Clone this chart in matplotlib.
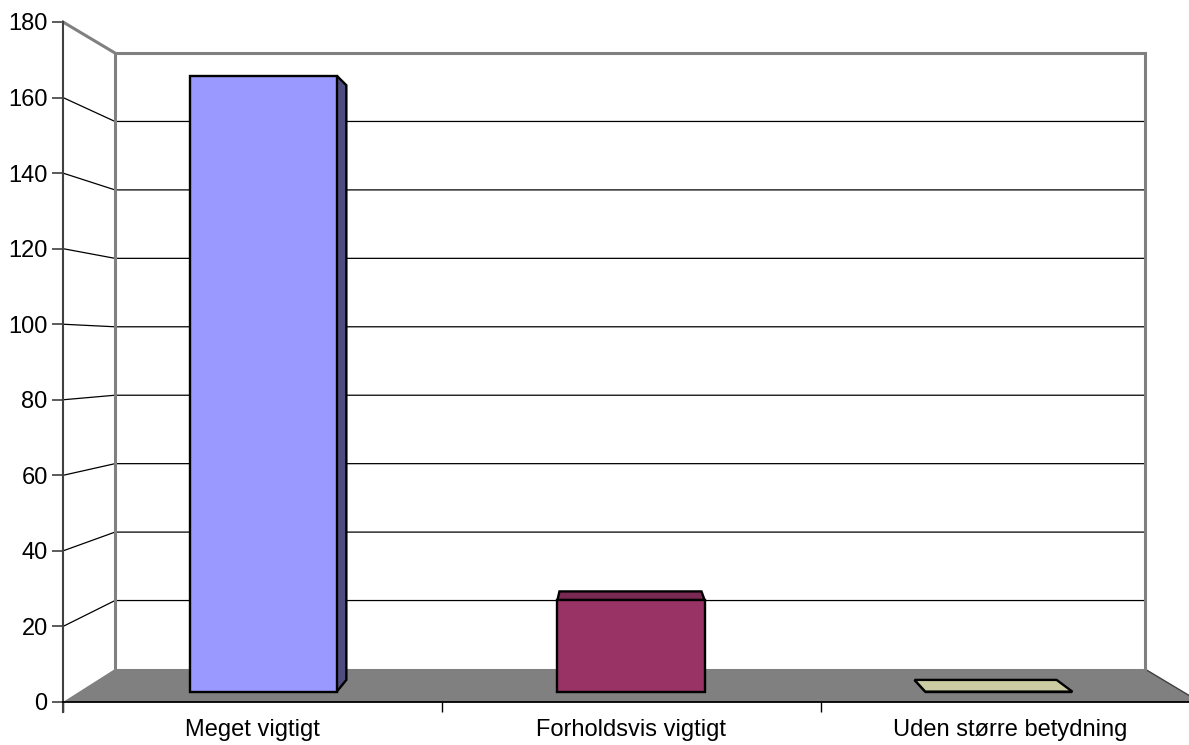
import matplotlib
matplotlib.use("Agg")
import matplotlib.pyplot as plt
from matplotlib.patches import Polygon
from matplotlib.ticker import FixedLocator

plt.rcParams['font.family'] = ['Liberation Sans', 'DejaVu Sans']

# ---- data ----
categories = ["Meget vigtigt", "Forholdsvis vigtigt", "Uden større betydning"]
values = [168, 25, 0]
y_ticks = [0, 20, 40, 60, 80, 100, 120, 140, 160, 180]
y_max = 180

# ---- styles ----
front_colors = ["#9999FF", "#993366", "#FFFFCC"]

def shade(hexc, f):
    hexc = hexc.lstrip('#')
    r, g, b = (int(hexc[i:i + 2], 16) for i in (0, 2, 4))
    return (r * f / 255, g * f / 255, b * f / 255)

# perspective parameters (vanishing point in data coords, depth factor)
VPX, VPV, K = 0.9565, 92.8, 0.104
BAR_HALF = 0.2
Z0, Z1 = 0.291, 0.6465

def proj(x, v, z):
    s = 1.0 / (1.0 + K * z)
    return (VPX + (x - VPX) * s, VPV + (v - VPV) * s)

fig = plt.figure(figsize=(11.89, 7.45), dpi=100)
ax = fig.add_axes([63 / 1189, 43 / 745, 1137 / 1189, 680 / 745])
n = len(categories)
xmin, xmax = -0.5, n - 0.5
ax.set_xlim(xmin, xmax)
ax.set_ylim(0, y_max)
for sp in ax.spines.values():
    sp.set_visible(False)

wall_gray = "#808080"

# back wall gridlines + left wall diagonals
for t in y_ticks[1:-1]:
    pts = [proj(xmin, t, 0), proj(xmin, t, 1), proj(xmax, t, 1)]
    ax.plot([p[0] for p in pts], [p[1] for p in pts], color="black", lw=0.9,
            zorder=1, clip_on=False)

# floor
floor = [proj(xmin, 0, 0), proj(xmin, 0, 1), proj(xmax, 0, 1), proj(xmax, 0, 0)]
ax.add_patch(Polygon(floor, closed=True, facecolor=wall_gray, edgecolor="none",
                     zorder=2, clip_on=False))
fr = [proj(xmax, 0, 1), proj(xmax, 0, 0)]
ax.plot([p[0] for p in fr], [p[1] for p in fr], color="#404040", lw=1.0,
        zorder=2.5, clip_on=False)

# back wall border (left, top, right) and left wall top edge
bw = [proj(xmin, 0, 1), proj(xmin, y_max, 1), proj(xmax, y_max, 1), proj(xmax, 0, 1)]
ax.plot([p[0] for p in bw], [p[1] for p in bw], color=wall_gray, lw=2.2,
        zorder=3, clip_on=False, solid_joinstyle='miter')
lt = [proj(xmin, y_max, 0), proj(xmin, y_max, 1)]
ax.plot([p[0] for p in lt], [p[1] for p in lt], color=wall_gray, lw=2.2,
        zorder=3, clip_on=False)

# bars
for i, (val, col) in enumerate(zip(values, front_colors)):
    x0, x1 = i - BAR_HALF, i + BAR_HALF
    faces = []
    if x1 < VPX:
        faces.append(([proj(x1, 0, Z0), proj(x1, 0, Z1), proj(x1, val, Z1), proj(x1, val, Z0)],
                      shade(col, 0.5)))
    if x0 > VPX:
        faces.append(([proj(x0, 0, Z0), proj(x0, 0, Z1), proj(x0, val, Z1), proj(x0, val, Z0)],
                      shade(col, 0.5)))
    if val < VPV:
        faces.append(([proj(x0, val, Z0), proj(x0, val, Z1), proj(x1, val, Z1), proj(x1, val, Z0)],
                      shade(col, 0.8)))
    faces.append(([proj(x0, 0, Z0), proj(x0, val, Z0), proj(x1, val, Z0), proj(x1, 0, Z0)], col))
    for k, (pts, fc) in enumerate(faces):
        ax.add_patch(Polygon(pts, closed=True, facecolor=fc, edgecolor="black",
                             lw=1.7, joinstyle='miter', zorder=5 + k, clip_on=False))

# front value axis line
ax.plot([xmin, xmin], [-10 / 680 * y_max, y_max], color="#404040", lw=1.5,
        zorder=10, clip_on=False)
# category axis line
ax.plot([xmin, xmax], [0, 0], color="black", lw=1.3, zorder=10, clip_on=False)

# ticks
ax.set_yticks(y_ticks)
ax.set_yticklabels([str(t) for t in y_ticks])
ax.tick_params(axis='y', direction='out', length=8, width=1.2, color="#404040",
               pad=3.0, labelsize=17, labelcolor="black")
ax.set_xticks(range(n))
ax.set_xticklabels(categories)
ax.tick_params(axis='x', which='major', length=0, pad=12.5, labelsize=17)
ax.xaxis.set_minor_locator(FixedLocator([k - 0.5 for k in range(n + 1)]))
ax.tick_params(axis='x', which='minor', direction='out', length=7.5, width=1.0,
               color="black")

fig.savefig("out.png", dpi=100)
